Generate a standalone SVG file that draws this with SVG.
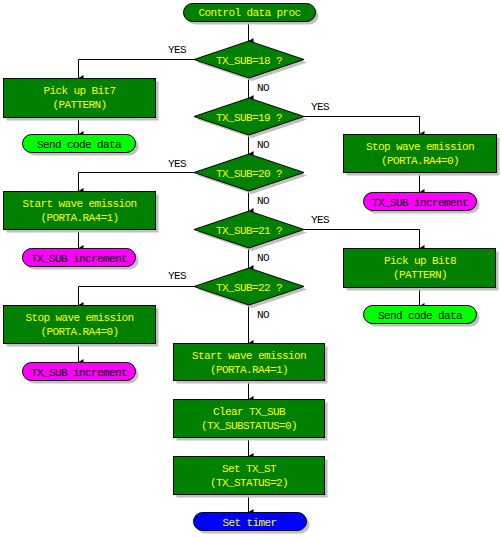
<svg xmlns="http://www.w3.org/2000/svg" width="501" height="537" viewBox="0 0 501 537">
<defs>
<style>
text{font-family:"Liberation Mono","DejaVu Sans Mono",monospace;font-size:11px;letter-spacing:-0.6px;text-anchor:middle}
.sh{fill:#c0c0c0;stroke:none}
.box{fill:#008000;stroke:#000;stroke-width:1}
.dia{fill:#008000;stroke:#000;stroke-width:1}
.lime{fill:#00ff00;stroke:#000}
.mag{fill:#ff00ff;stroke:#000}
.blue{fill:#0000ff;stroke:#000}
.y{fill:#ffff00}
.k{fill:#000}
.lbl{fill:#000;text-anchor:start}
.c{fill:none;stroke:#000;stroke-width:1;marker-end:url(#ah)}
</style>
<marker id="ah" viewBox="0 0 6 5" refX="3" refY="5" markerWidth="6" markerHeight="5" markerUnits="userSpaceOnUse" orient="auto-start-reverse">
<path d="M0,0 L6,0 L3,5 Z" fill="#000"/>
</marker>
</defs>
<rect width="501" height="537" fill="#fff"/>

<g id="connectors">
<path class="c" d="M248.5 21 V41"/>
<path class="c" d="M248.5 78 V98"/>
<path class="c" d="M248.5 135 V154"/>
<path class="c" d="M248.5 191 V211"/>
<path class="c" d="M248.5 248 V268"/>
<path class="c" d="M248.5 305 V343"/>
<path class="c" d="M248.5 380 V399"/>
<path class="c" d="M248.5 437 V456"/>
<path class="c" d="M248.5 494 V512"/>
<path class="c" d="M194 59.5 H78.5 V78"/>
<path class="c" d="M78.5 117 V134"/>
<path class="c" d="M304 116.5 H419.5 V134"/>
<path class="c" d="M419.5 172 V192"/>
<path class="c" d="M194 172.5 H78.5 V191"/>
<path class="c" d="M78.5 229 V248"/>
<path class="c" d="M304 229.5 H419.5 V248"/>
<path class="c" d="M419.5 287 V306"/>
<path class="c" d="M194 286.5 H78.5 V305"/>
<path class="c" d="M78.5 343 V362"/>
<text class="lbl" x="168" y="53">YES</text>
<text class="lbl" x="311" y="110">YES</text>
<text class="lbl" x="168" y="167">YES</text>
<text class="lbl" x="311" y="223">YES</text>
<text class="lbl" x="168" y="279">YES</text>
<text class="lbl" x="257" y="91">NO</text>
<text class="lbl" x="257" y="148">NO</text>
<text class="lbl" x="257" y="204">NO</text>
<text class="lbl" x="257" y="261">NO</text>
<text class="lbl" x="257" y="318">NO</text>
</g>

<g id="start">
<rect class="sh" x="186.5" y="6.5" width="132" height="18" rx="9"/>
<rect class="box" x="183.5" y="3.5" width="132" height="18" rx="9"/>
<text class="y" x="249.5" y="16">Control data proc</text>
</g>

<g id="d18">
<polygon class="sh" points="197,62.5 252,44 307,62.5 252,81"/>
<polygon class="dia" points="194,59.5 249,41 304,59.5 249,78"/>
<text class="y" x="249" y="63.5">TX_SUB=18 ?</text>
</g>
<g id="d19">
<polygon class="sh" points="197,119.5 252,101 307,119.5 252,138"/>
<polygon class="dia" points="194,116.5 249,98 304,116.5 249,135"/>
<text class="y" x="249" y="120.5">TX_SUB=19 ?</text>
</g>
<g id="d20">
<polygon class="sh" points="197,175.5 252,157 307,175.5 252,194"/>
<polygon class="dia" points="194,172.5 249,154 304,172.5 249,191"/>
<text class="y" x="249" y="176.5">TX_SUB=20 ?</text>
</g>
<g id="d21">
<polygon class="sh" points="197,232.5 252,214 307,232.5 252,251"/>
<polygon class="dia" points="194,229.5 249,211 304,229.5 249,248"/>
<text class="y" x="249" y="233.5">TX_SUB=21 ?</text>
</g>
<g id="d22">
<polygon class="sh" points="197,289.5 252,271 307,289.5 252,308"/>
<polygon class="dia" points="194,286.5 249,268 304,286.5 249,305"/>
<text class="y" x="249" y="290.5">TX_SUB=22 ?</text>
</g>

<g id="pick7">
<rect class="sh" x="6.5" y="81.5" width="152" height="39"/>
<rect class="box" x="3.5" y="78.5" width="152" height="39"/>
<text class="y" x="79.5" y="93.5">Pick up Bit7</text>
<text class="y" x="79.5" y="108">(PATTERN)</text>
</g>
<g id="send1">
<rect class="sh" x="25.5" y="137.5" width="113" height="18" rx="9"/>
<rect class="lime" x="22.5" y="134.5" width="113" height="18" rx="9"/>
<text class="k" x="79" y="147.5">Send code data</text>
</g>

<g id="stop1">
<rect class="sh" x="346.5" y="137.5" width="153" height="38"/>
<rect class="box" x="343.5" y="134.5" width="153" height="38"/>
<text class="y" x="420" y="150">Stop wave emission</text>
<text class="y" x="420" y="164">(PORTA.RA4=0)</text>
</g>
<g id="inc1">
<rect class="sh" x="366.5" y="195.5" width="113" height="18" rx="9"/>
<rect class="mag" x="363.5" y="192.5" width="113" height="18" rx="9"/>
<text class="k" x="420" y="205.5">TX_SUB increment</text>
</g>

<g id="start1">
<rect class="sh" x="6.5" y="194.5" width="152" height="38"/>
<rect class="box" x="3.5" y="191.5" width="152" height="38"/>
<text class="y" x="79.5" y="207">Start wave emission</text>
<text class="y" x="79.5" y="221">(PORTA.RA4=1)</text>
</g>
<g id="inc2">
<rect class="sh" x="25.5" y="251.5" width="113" height="18" rx="9"/>
<rect class="mag" x="22.5" y="248.5" width="113" height="18" rx="9"/>
<text class="k" x="79" y="261.5">TX_SUB increment</text>
</g>

<g id="pick8">
<rect class="sh" x="346.5" y="251.5" width="152" height="39"/>
<rect class="box" x="343.5" y="248.5" width="152" height="39"/>
<text class="y" x="420" y="264">Pick up Bit8</text>
<text class="y" x="420" y="278">(PATTERN)</text>
</g>
<g id="send2">
<rect class="sh" x="366.5" y="308.5" width="113" height="18" rx="9"/>
<rect class="lime" x="363.5" y="305.5" width="113" height="18" rx="9"/>
<text class="k" x="420" y="318.5">Send code data</text>
</g>

<g id="stop2">
<rect class="sh" x="6.5" y="308.5" width="152" height="38"/>
<rect class="box" x="3.5" y="305.5" width="152" height="38"/>
<text class="y" x="79.5" y="321">Stop wave emission</text>
<text class="y" x="79.5" y="335">(PORTA.RA4=0)</text>
</g>
<g id="inc3">
<rect class="sh" x="25.5" y="365.5" width="113" height="18" rx="9"/>
<rect class="mag" x="22.5" y="362.5" width="113" height="18" rx="9"/>
<text class="k" x="79" y="375.5">TX_SUB increment</text>
</g>

<g id="start2">
<rect class="sh" x="176.5" y="346.5" width="151" height="37"/>
<rect class="box" x="173.5" y="343.5" width="151" height="37"/>
<text class="y" x="249" y="358.5">Start wave emission</text>
<text class="y" x="249" y="372.5">(PORTA.RA4=1)</text>
</g>
<g id="clear">
<rect class="sh" x="176.5" y="402.5" width="151" height="38"/>
<rect class="box" x="173.5" y="399.5" width="151" height="38"/>
<text class="y" x="249" y="415">Clear TX_SUB</text>
<text class="y" x="249" y="429">(TX_SUBSTATUS=0)</text>
</g>
<g id="setst">
<rect class="sh" x="176.5" y="459.5" width="151" height="38"/>
<rect class="box" x="173.5" y="456.5" width="151" height="38"/>
<text class="y" x="249" y="472">Set TX_ST</text>
<text class="y" x="249" y="486">(TX_STATUS=2)</text>
</g>
<g id="timer">
<rect class="sh" x="196.5" y="515.5" width="113" height="18" rx="9"/>
<rect class="blue" x="193.5" y="512.5" width="113" height="18" rx="9"/>
<text class="y" x="249.5" y="525.5">Set timer</text>
</g>
</svg>
